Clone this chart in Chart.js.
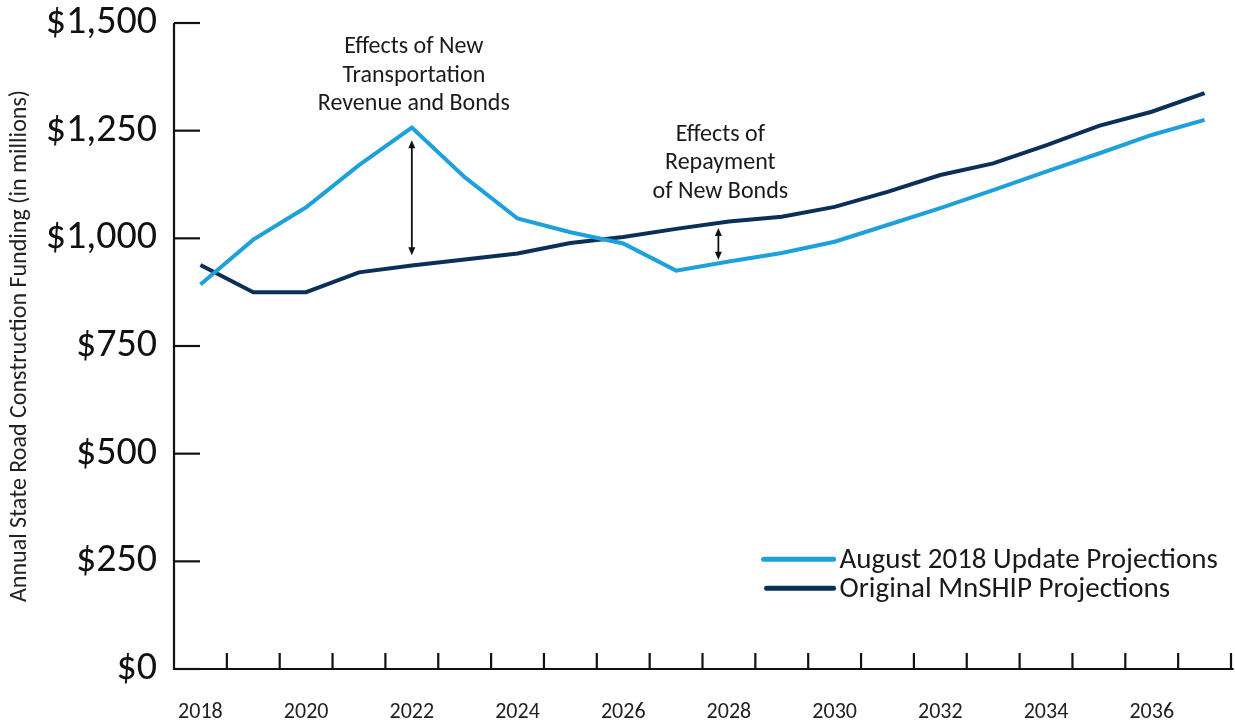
<!DOCTYPE html>
<html>
<head>
<meta charset="utf-8">
<script src="https://cdn.jsdelivr.net/npm/chart.js@4/dist/chart.umd.min.js"></script>
<style>
  html, body { margin: 0; padding: 0; background: #fff; }
  #wrap { width: 1235px; height: 722px; position: relative; }
</style>
</head>
<body>
<div id="wrap"><canvas id="js-line-chart"></canvas></div>
<script>
var FONT = "Carlito, Lato, 'Open Sans', sans-serif"

var years = [2018, 2019, 2020, 2021, 2022, 2023, 2024, 2025, 2026, 2027,
  2028, 2029, 2030, 2031, 2032, 2033, 2034, 2035, 2036, 2037]
var updateValues = [893, 997, 1072, 1170, 1257, 1142, 1046, 1014, 988, 925,
  946, 966, 992, 1031, 1070, 1112, 1155, 1197, 1240, 1275]
var originalValues = [938, 875, 875, 921, 937, 951, 965, 989, 1003, 1022,
  1039, 1050, 1073, 1108, 1147, 1174, 1216, 1261, 1294, 1337]
var seriesNames = ["August 2018 Update Projections", "Original MnSHIP Projections"]
var seriesColors = ["rgb(30, 160, 220)", "rgb(10, 48, 88)"]
var yTicks = [0, 250, 500, 750, 1000, 1250, 1500]
var yTitle = "Annual State Road Construction Funding (in millions)"

// annotation text blocks: [x index, y value of first line, lines]
var notes = [
  [4, 1444, ["Effects of New", "Transportation", "Revenue and Bonds"]],
  [9.8, 1240, ["Effects of", "Repayment", "of New Bonds"]]
]
// double arrows: [x index, top value, bottom value]
var arrows = [
  [4, 1228, 961],
  [9.8, 1024, 950]
]

function xPix(scale, idx) {
  var a = scale.getPixelForValue(0)
  var b = scale.getPixelForValue(1)
  return a + (b - a) * idx
}

var decorations = {
  id: "decorations",
  afterDatasetsDraw: function (chart) {
    var c = chart.ctx
    var area = chart.chartArea
    var xs = chart.scales.x
    var ys = chart.scales.y
    var step = xPix(xs, 1) - xPix(xs, 0)
    c.save()
    c.strokeStyle = "#111"
    c.lineWidth = 2.2
    c.lineCap = "butt"
    // axes
    c.beginPath()
    c.moveTo(area.left, area.top)
    c.lineTo(area.left, area.bottom)
    c.lineTo(xPix(xs, years.length - 0.45), area.bottom)
    c.stroke()
    // y tick marks (inside)
    yTicks.forEach(function (v) {
      var y = ys.getPixelForValue(v)
      c.beginPath()
      c.moveTo(area.left, y)
      c.lineTo(area.left + 26, y)
      c.stroke()
    })
    // x tick marks (between categories)
    for (var i = 0; i < years.length; i++) {
      var x = xPix(xs, i) + step / 2
      c.beginPath()
      c.moveTo(x, area.bottom)
      c.lineTo(x, area.bottom - 16)
      c.stroke()
    }
    // arrows
    c.fillStyle = "#111"
    c.lineWidth = 1.8
    arrows.forEach(function (a) {
      var x = xPix(xs, a[0])
      var y1 = ys.getPixelForValue(a[1])
      var y2 = ys.getPixelForValue(a[2])
      c.beginPath()
      c.moveTo(x, y1 + 6)
      c.lineTo(x, y2 - 6)
      c.stroke()
      c.beginPath()
      c.moveTo(x, y1); c.lineTo(x - 3.5, y1 + 8); c.lineTo(x + 3.5, y1 + 8); c.closePath()
      c.fill()
      c.beginPath()
      c.moveTo(x, y2); c.lineTo(x - 3.5, y2 - 8); c.lineTo(x + 3.5, y2 - 8); c.closePath()
      c.fill()
    })
    // annotation texts
    c.fillStyle = "#1a1a1a"
    c.font = "24px " + FONT
    c.textAlign = "center"
    c.textBaseline = "middle"
    notes.forEach(function (n) {
      var x = xPix(xs, n[0]) + 2
      var y0 = ys.getPixelForValue(n[1])
      n[2].forEach(function (line, k) {
        c.fillText(line, x, y0 + k * 28.5)
      })
    })
    // legend inside the plot
    var lx = xPix(xs, 10.75)
    var ly = ys.getPixelForValue(250) - 2
    c.font = "29px " + FONT
    c.textAlign = "left"
    c.lineWidth = 5
    c.lineCap = "round"
    chart.data.datasets.forEach(function (ds, k) {
      var y = ly + k * 29
      c.strokeStyle = ds.borderColor
      c.beginPath()
      c.moveTo(lx - 5 + k * 3, y)
      c.lineTo(lx + 65, y)
      c.stroke()
      c.fillStyle = "#1a1a1a"
      c.fillText(ds.label, lx + 71, y + 1)
    })
    c.restore()
  }
}

var ctx = document.getElementById("js-line-chart")

var chart = new Chart(ctx,
  {
    type: "line",
    data: {
      labels: years,
      datasets: [{
        label: seriesNames[0],
        data: updateValues,
        borderColor: seriesColors[0],
        backgroundColor: seriesColors[0],
        borderWidth: 4,
        pointRadius: 0,
        tension: 0
      }, {
        label: seriesNames[1],
        data: originalValues,
        borderColor: seriesColors[1],
        backgroundColor: seriesColors[1],
        borderWidth: 4,
        pointRadius: 0,
        tension: 0
      }]
    },
    options: {
      responsive: true,
      maintainAspectRatio: false,
      animation: false,
      events: [],
      layout: {
        padding: { top: 23, right: 4, left: 0, bottom: 0 }
      },
      plugins: {
        legend: { display: false },
        tooltip: { enabled: false }
      },
      scales: {
        x: {
          type: "category",
          offset: true,
          grid: { display: false, drawTicks: false },
          border: { display: false },
          afterFit: function (scale) {
            scale.height = 53
            scale.paddingLeft = 0
            scale.paddingRight = 0
          },
          ticks: {
            autoSkip: false,
            maxRotation: 0,
            padding: 30,
            color: "#222",
            font: { family: FONT, size: 22 },
            callback: function (val, i) {
              return i % 2 === 0 ? String(years[i]) : ""
            }
          }
        },
        y: {
          min: 0,
          max: 1500,
          afterBuildTicks: function (scale) {
            scale.ticks = yTicks.map(function (v) { return { value: v } })
          },
          afterFit: function (scale) {
            scale.width = 174
            scale.paddingTop = 0
            scale.paddingBottom = 0
          },
          grid: { display: false, drawTicks: false },
          border: { display: false },
          ticks: {
            padding: 17,
            color: "#111",
            font: { family: FONT, size: 40 },
            callback: function (v) { return "$" + v.toLocaleString("en-US") }
          },
          title: {
            display: true,
            text: yTitle,
            color: "#222",
            padding: { top: 6, bottom: 0 },
            font: { family: FONT, size: 24 }
          }
        }
      }
    },
    plugins: [decorations]
  })
</script>
</body>
</html>
